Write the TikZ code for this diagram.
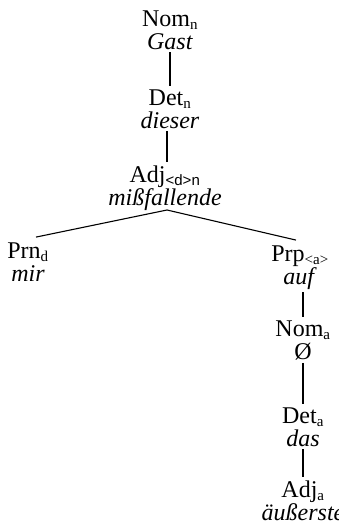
\documentclass[tikz,border=0pt]{standalone}
\usepackage{fontspec}
\setmainfont{Liberation Serif}
\setsansfont{Liberation Sans}
\begin{document}
\begin{tikzpicture}[x=1pt,y=-1pt,
  tn/.style={align=center,inner sep=3pt,anchor=base,font=\fontsize{24}{23}\selectfont},
  edge/.style={line width=1.1pt}]
\useasboundingbox (0,0) rectangle (338,522);
\newcommand{\sbs}[1]{\textsubscript{\fontsize{15}{15}\selectfont #1}}
\node[tn] (nomn) at (170,49) {Nom\sbs{n}\\\textit{Gast}};
\node[tn] (detn) at (170,128) {Det\sbs{n}\\\textit{dieser}};
\node[tn] (adj) at (165,205) {Adj\sbs{\sffamily <d>n}\\\textit{mißfallende}};
\node[tn] (prn) at (28,281) {Prn\sbs{d}\\\textit{mir}};
\node[tn] (prp) at (300,284) {Prp\sbs{<a>}\\\textit{auf}};
\node[tn] (noma) at (303,359) {Nom\sbs{a}\\Ø};
\node[tn] (deta) at (303,446) {Det\sbs{a}\\\textit{das}};
\node[tn] (adja) at (303,520) {Adj\sbs{a}\\\textit{äußerste}};
\coordinate (apex) at (167,210);
\draw[edge] (nomn.south -| 170,0) -- (detn.north -| 170,0);
\draw[edge] (detn.south -| 167,0) -- (adj.north -| 167,0);
\draw[edge] (apex) -- ([xshift=8pt,yshift=2pt]prn.north);
\draw[edge] (apex) -- ([xshift=-4pt,yshift=2pt]prp.north);
\draw[edge] (prp.south -| noma) -- (noma);
\draw[edge] (noma) -- (deta);
\draw[edge] (deta) -- (adja);
\end{tikzpicture}
\end{document}
